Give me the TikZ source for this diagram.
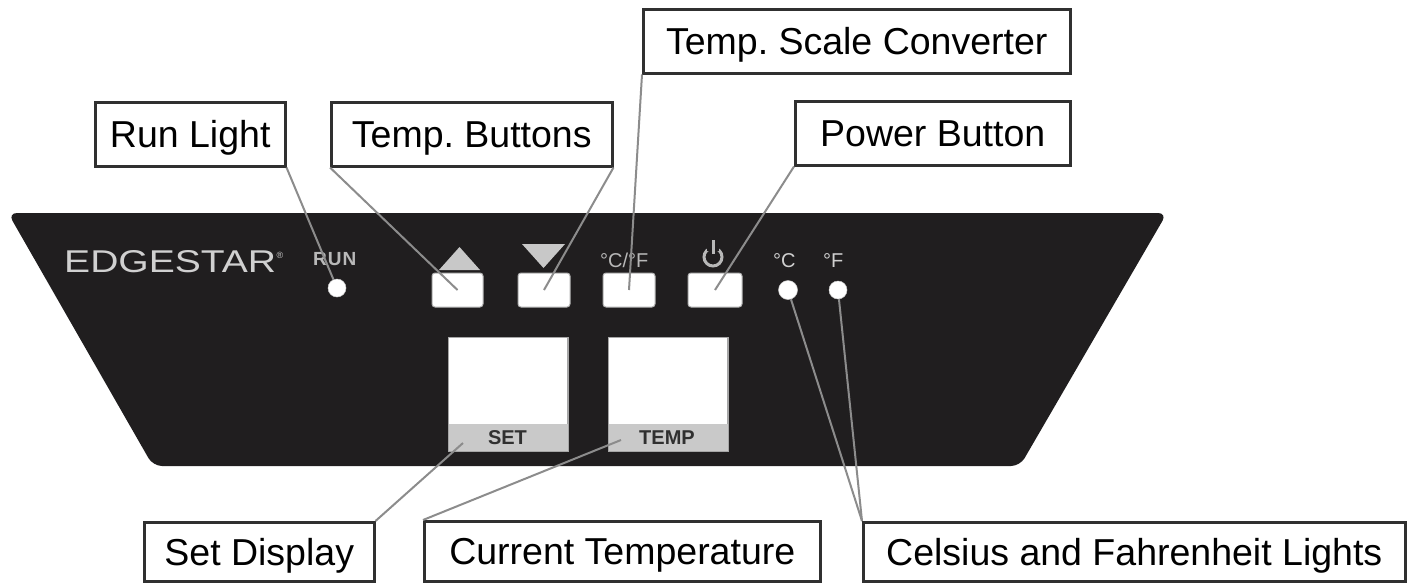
\documentclass[tikz,border=0pt]{standalone}
\usepackage{fontspec}
\setmainfont{Liberation Sans}
\newfontfamily\logofont[FakeStretch=1.24]{Liberation Sans}
\frenchspacing
\definecolor{panelc}{HTML}{201E1F}
\definecolor{leadc}{HTML}{8C8C8C}
\definecolor{boxc}{HTML}{303030}
\definecolor{bandc}{HTML}{C9C9C9}
\definecolor{tric}{HTML}{C8C8C8}
\definecolor{symc}{HTML}{B8B8B8}
\definecolor{logoc}{HTML}{D0D0D0}
\tikzset{
  lbl/.style={draw=boxc, line width=2.5pt, fill=white, inner sep=0pt, anchor=north west,
    font=\fontsize{37.5}{40}\selectfont, text height=27pt, text depth=0pt},
  lead/.style={draw=leadc, line width=2pt},
  btn/.style={draw=gray!60, line width=1pt, fill=white, rounded corners=3pt, minimum height=34pt, inner sep=0pt},
  dot/.style={circle, fill=white, draw=gray!40, line width=0.5pt, inner sep=0pt, minimum size=18pt},
  disp/.style={draw=gray!70, line width=1pt, fill=white, inner sep=0pt, minimum width=119pt, minimum height=113pt, anchor=north west},
  dispt/.style={font=\bfseries\fontsize{20}{20}\selectfont, text=boxc, inner sep=0pt, text height=14.5pt, text depth=0pt},
  smallt/.style={inner sep=0pt, anchor=base west, font=\fontsize{20}{20}\selectfont}
}
\begin{document}
\begin{tikzpicture}[x=1pt,y=-1pt]
\useasboundingbox (0,0) rectangle (1418,582);
% panel
\fill[panelc, rounded corners=9pt] (8,213) -- (1167,213) -- (1020,466) -- (153,466) -- cycle;
% logo and labels
\node[inner sep=0pt, anchor=base west, text=logoc, font=\logofont\fontsize{31.5}{32}\selectfont] (logo) at (64,272) {EDGESTAR};
\node[inner sep=0pt, anchor=base west, text=logoc, font=\fontsize{9}{9}\selectfont] (reg) at (logo.base east) {\raisebox{14pt}{®}};
\node[smallt, text=symc, font=\bfseries\fontsize{19}{19}\selectfont] (runtxt) at (313,265) {R\kern1ptU\kern1ptN};
\node[smallt, text=symc] (cftxt) at (600,267) {°C/°F};
\node[smallt, text=logoc] (ctxt) at (773,267) {°C};
\node[smallt, text=logoc] (ftxt) at (823,267) {°F};
% triangles
\fill[tric] (439,270) -- (480,270) -- (459.5,247) -- cycle;
\fill[tric] (522,244) -- (565,244) -- (543.5,268) -- cycle;
% power symbol
\draw[symc, line width=3pt] (713,257) circle[radius=9];
\fill[panelc] (707,243) rectangle (719,251);
\draw[symc, line width=3pt] (713,240) -- (713,254);
% buttons
\node[btn, minimum width=51pt] (btn1) at (457.5,290) {};
\node[btn, minimum width=52pt] (btn2) at (544,290) {};
\node[btn, minimum width=52pt] (btn3) at (629,290) {};
\node[btn, minimum width=54pt] (btn4) at (715,290) {};
% dots
\node[dot] (rundot) at (337,288) {};
\node[dot, minimum size=19pt] (cdot) at (788,290) {};
\node[dot] (fdot) at (838,290) {};
% displays
\node[disp] (setdisp) at (448,337) {};
\fill[bandc] (setdisp.south west) rectangle ([yshift=27pt]setdisp.south east);
\draw[gray!70, line width=1pt] (setdisp.south west) rectangle (setdisp.north east);
\node[dispt] (settxt) at (507.5,437) {SET};
\node[disp] (tempdisp) at (608,337) {};
\fill[bandc] (tempdisp.south west) rectangle ([yshift=27pt]tempdisp.south east);
\draw[gray!70, line width=1pt] (tempdisp.south west) rectangle (tempdisp.north east);
\node[dispt] (temptxt) at (667,437) {TEMP};
\coordinate (setpt) at (463,443);
\coordinate (temppt) at (621,440);
% label boxes
\node[lbl, minimum width=190pt, minimum height=64pt] (runl) at (94,101) {Run Light};
\node[lbl, minimum width=281pt, minimum height=64pt] (tbtn) at (330,101) {Temp. Buttons};
\node[lbl, minimum width=427pt, minimum height=64pt] (scale) at (642,8) {Temp. Scale Converter};
\node[lbl, minimum width=275pt, minimum height=64pt] (power) at (794,100) {Power Button};
\node[lbl, minimum width=230pt, minimum height=59pt] (setl) at (143,521) {Set Display};
\node[lbl, minimum width=396pt, minimum height=60pt] (curl) at (423,520) {Current Temperature};
\node[lbl, minimum width=542pt, minimum height=59pt] (cfl) at (862,521) {Celsius and Fahrenheit Lights};
% leaders
\draw[lead] (runl.south east) -- (rundot);
\draw[lead] (tbtn.south west) -- (btn1.center);
\draw[lead] (tbtn.south east) -- (btn2.center);
\draw[lead] (scale.south west) -- (btn3.center);
\draw[lead] (power.south west) -- (btn4.center);
\draw[lead] (setl.north east) -- (setpt);
\draw[lead] (curl.north west) -- (temppt);
\draw[lead] (cfl.north west) -- (cdot);
\draw[lead] (cfl.north west) -- (fdot);
\end{tikzpicture}
\end{document}
